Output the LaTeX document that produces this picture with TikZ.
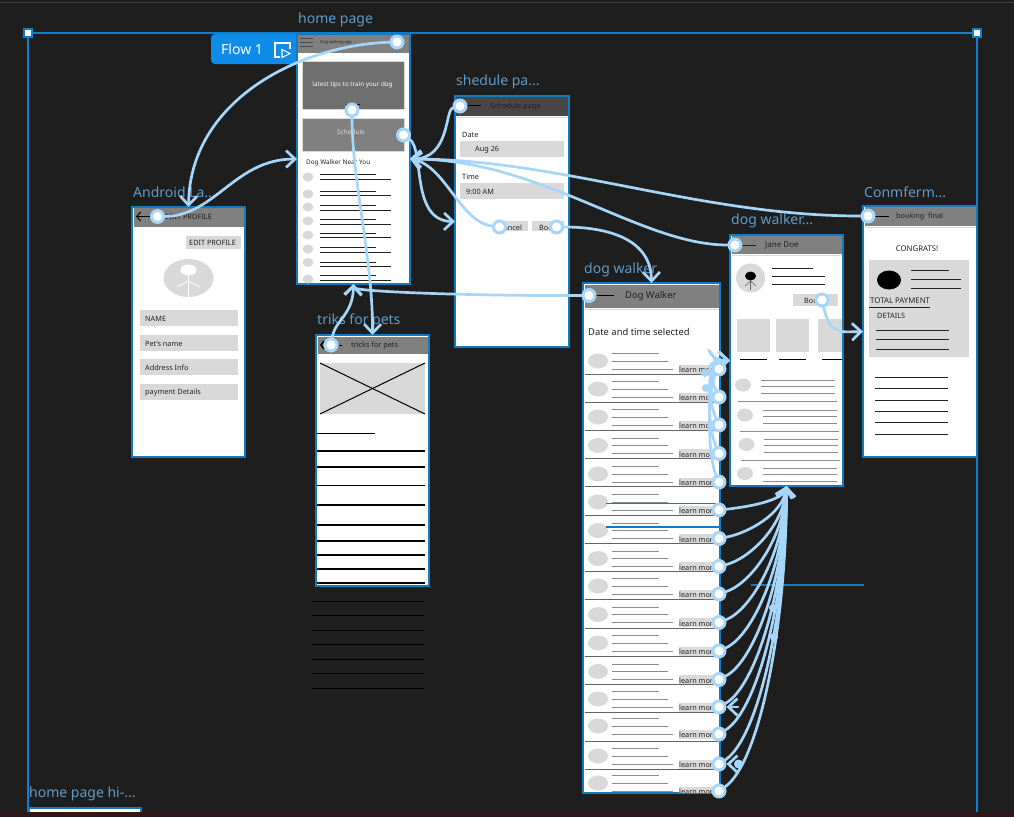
\documentclass[tikz,border=0pt]{standalone}
\usepackage{fontspec}
\setmainfont{Noto Sans}
\usetikzlibrary{arrows.meta}
\definecolor{bgdark}{HTML}{1E1E1E}
\definecolor{framebl}{HTML}{1479BE}
\definecolor{outerbl}{HTML}{0C7FD0}
\definecolor{flowbl}{HTML}{0D8CE9}
\definecolor{titlebl}{HTML}{5F9CCB}
\definecolor{linkbl}{HTML}{A6D6FA}
\definecolor{headgray}{HTML}{808080}
\definecolor{boxgray}{HTML}{D9D9D9}
\definecolor{txtdark}{HTML}{222222}
\pgfdeclarelayer{back}
\pgfdeclarelayer{links}
\pgfsetlayers{back,links,main}
\tikzset{
  screen/.style={draw=framebl,line width=1.9pt,fill=white,inner sep=0,outer sep=0},
  title/.style={text=titlebl,font=\fontsize{14}{16}\selectfont,inner sep=0,anchor=west,yshift=-1.5pt},
  small/.style={text=txtdark,font=\fontsize{7.3}{8}\selectfont,inner sep=0,anchor=west,yshift=-.8pt},
  mid/.style={text=txtdark,font=\fontsize{9.4}{10}\selectfont,inner sep=0,anchor=west,yshift=-1pt},
  handle/.style={circle,draw=linkbl,fill=white,line width=3pt,minimum size=12pt,inner sep=0},
  corner/.style={rectangle,draw=outerbl,fill=white,line width=1.2pt,minimum size=8pt,inner sep=0},
  link/.style={draw=linkbl,line width=2.7pt,line cap=round,-{Straight Barb[length=9pt,width=17pt]}},
  wire/.style={draw=txtdark,line width=.9pt},
  lightwire/.style={draw=gray!90,line width=.6pt}
}
\begin{document}
\begin{tikzpicture}[x=1pt,y=-1pt]
\useasboundingbox (0,0) rectangle (1014,817);

\begin{pgfonlayer}{back}
\fill [bgdark] (0,0) rectangle (1014,817);
\draw [black!75!white,line width=1pt] (0,2.5) -- (1014,2.5);
\draw [outerbl,line width=1.2pt] (28,812) -- (28,33) -- (977,33) -- (977,812);
\fill [flowbl,rounded corners=4pt] (303,34) -- (211,34) -- (211,64) -- (303,64) -- cycle;
\node [text=white,font=\fontsize{14}{16}\selectfont,inner sep=0,anchor=west,yshift=-.5pt] (flowname) at (221,49) {Flow 1};
\draw [white,line width=1.1pt] (290,49) -- (290,43) -- (275,43) -- (275,57) -- (280,57);
\draw [white,line width=1.1pt] (282,49.5) -- (290,53.5) -- (282,57.5) -- cycle;

\node [title] (hometitle) at (298,18) {home page};
\node [title] (profiletitle) at (133,191) {Android La...};
\node [title] (trickstitle) at (317,319) {triks for pets};
\node [title] (scheduletitle) at (456,80) {shedule pa...};
\node [title] (walkertitle) at (584,268) {dog walker};
\node [title] (janetitle) at (731,219) {dog walker...};
\node [title] (confirmtitle) at (864,191) {Conmferm...};
\node [title] (hidpititle) at (29,792) {home page hi-...};

\node [screen,minimum width=113pt,minimum height=250pt] (home) at (353.5,159) {};
\node [screen,minimum width=113pt,minimum height=250pt] (profile) at (188.5,332) {};
\node [screen,minimum width=113pt,minimum height=251pt] (tricks) at (372.5,460.5) {};
\node [screen,minimum width=114pt,minimum height=251pt] (schedule) at (512,221.5) {};
\node [screen,minimum width=137pt,minimum height=510pt] (walker) at (651.5,538) {};
\node [screen,minimum width=113pt,minimum height=251pt] (jane) at (786.5,360.5) {};
\node [screen,minimum width=114pt,minimum height=251pt] (confirm) at (920,331.5) {};
\fill [framebl] (28,807) rectangle (142,812);
\fill [white] (30,809) rectangle (140,812);
\fill [black!60!red!25!bgdark] (0,812) rectangle (1014,817);

\fill [headgray] (298,35) rectangle (409,53);
\foreach \y in {38,42,46}
\draw [black!70,line width=.6pt] (300,\y) -- (313,\y);
\node [text=txtdark,font=\fontsize{4}{5}\selectfont,inner sep=0,anchor=west] (appname) at (320,42) {Dog walking app};
\fill [black!57,draw=boxgray] (302,61) rectangle (404,109);
\node [text=white,font=\fontsize{6.3}{8}\selectfont,inner sep=0] (tips) at (352.5,85) {latest tips to train your dog};
\draw [black,line width=1pt] (346,104) -- (360,104);
\fill [headgray,draw=boxgray] (302,118) rectangle (404,151);
\node [text=boxgray,font=\fontsize{6.5}{8}\selectfont,inner sep=0] (schedbtn) at (351,132) {Schedule};
\node [small,font=\fontsize{6.4}{8}\selectfont] (nearyou) at (306,162) {Dog Walker Near You};
\foreach \y/\a/\b in {177/174/179,194/191/195.5,207/205.5/210,221/219/224,235/233/237.5,249/247/252,262.5/262/266,279/275.5/280} {
\fill [boxgray] (308,\y) ellipse (5.5 and 4.5);
\draw [wire] (320,\a) -- (376,\a);
\draw [wire] (320,\b) -- (391,\b);
}

\fill [headgray] (133.5,208) rectangle (244,227);
\draw [black,line width=1pt,{Straight Barb[length=4pt,width=9pt]}-] (136,216.5) -- (157,216.5);
\node [small] (profilehead) at (165,216.5) {EDIT PROFILE};
\fill [boxgray] (186,236) rectangle (241,249);
\node [small] (editbtn) at (189,242.5) {EDIT PROFILE};
\fill [boxgray] (188.5,278) ellipse (25 and 19);
\fill [white] (188.5,270) ellipse (8 and 5.5);
\draw [white,line width=.8pt] (188.5,275) -- (188.5,297);
\draw [white,line width=.8pt] (177,287) -- (188.5,281) -- (200,287);
\foreach \y/\t [count=\n] in {318/NAME,343/Pet's name,367/Address Info,391.5/payment Details} {
\fill [boxgray] (140,\y-8) rectangle (238,\y+8);
\node [small] (field\n) at (145,\y) {\t};
}

\fill [headgray] (317.5,337) rectangle (428,354);
\draw [black,line width=1.6pt] (324,341) -- (321,345) -- (324,349);
\draw [black,line width=1pt] (339,345) -- (342,345);
\node [small] (trickshead) at (351,345) {tricks for pets};
\fill [boxgray] (320,363) rectangle (425,414);
\draw [black,line width=1pt] (320,363) -- (425,414);
\draw [black,line width=1pt] (320,414) -- (425,363);
\draw [black,line width=1pt] (317,433.5) -- (375,433.5);
\foreach \y in {451,467,485.5,505,525,541,555,569,583}
\draw [black,line width=1.1pt] (317,\y) -- (425,\y);
\foreach \y in {601,615,630,644,659,673,688}
\draw [black,line width=1pt] (312,\y) -- (424,\y);

\fill [black!72] (456,97) rectangle (568,116);
\draw [boxgray,line width=1pt] (456,117) -- (568,117);
\draw [black,line width=.9pt] (465,105.5) -- (481,105.5);
\node [small] (schedulehead) at (490,106) {Schedule page};
\node [small] (datename) at (462,134) {Date};
\fill [boxgray] (460,141) rectangle (564,157);
\node [small] (dateval) at (475,149) {Aug 26};
\node [small] (timename) at (462,176) {Time};
\fill [boxgray] (460,183) rectangle (564,199);
\node [small] (timeval) at (466,191) {9:00 AM};
\fill [boxgray] (497,221) rectangle (528,231);
\node [small] (cancelbtn) at (499,226.5) {Cancel};
\fill [boxgray] (532,221) rectangle (564,231);
\node [small] (bookbtn) at (539,226.5) {Book};

\fill [headgray] (584.5,284.5) rectangle (718.5,308);
\draw [boxgray,line width=1pt] (584.5,309) -- (718.5,309);
\draw [black,line width=.9pt] (594,295.5) -- (614,295.5);
\node [mid] (walkerhead) at (625,295.5) {Dog Walker};
\node [mid] (selected) at (588,331) {Date and time selected};
\begin{scope}
\clip (584,284) rectangle (719,792);
\foreach \i/\y in {1/369,2/397,3/425,4/453.5,5/482,6/510,7/538.5,8/566.5,9/594,10/622.5,11/651,12/679.5,13/707,14/734,15/764,16/791} {
\fill [boxgray] (598,\y-8) ellipse (10 and 7.5);
\draw [lightwire] (612,\y-15.5) -- (659,\y-15.5);
\draw [lightwire] (612,\y-8) -- (668,\y-8);
\draw [lightwire] (612,\y) -- (673,\y);
\fill [boxgray] (679,\y-4.5) rectangle (718,\y+4.5);
\node [small] (more\i) at (679,\y) {learn more};
}
\end{scope}
\foreach \y in {374,402,430,458,486,515,543,571,599,628,656,684,712,741,769}
\draw [txtdark!70,line width=.9pt] (584.5,\y) -- (718.5,\y);
\draw [framebl,line width=1.2pt] (606,503.5) -- (719,503.5);
\draw [framebl,line width=1.2pt] (606,527) -- (719,527);
\draw [framebl,line width=1.2pt] (751,585) -- (864,585);

\fill [headgray] (731.5,236) rectangle (842,254);
\draw [boxgray,line width=1pt] (731.5,255) -- (842,255);
\draw [txtdark,line width=.9pt] (740,245) -- (756,245);
\node [small,font=\fontsize{8}{9}\selectfont] (janehead) at (765,245) {Jane Doe};
\fill [boxgray] (750.5,278) circle (14.5);
\fill [black] (750.5,276) ellipse (5.5 and 4.5);
\draw [black!60,line width=.6pt] (750.5,280) -- (750.5,290);
\draw [black!60,line width=.6pt] (745,286) -- (750.5,281) -- (756,286);
\draw [wire] (772,268) -- (813,268);
\draw [wire] (772,276.5) -- (825,276.5);
\draw [wire] (772,284.5) -- (825,284.5);
\fill [boxgray] (793,294) rectangle (838,306);
\node [small] (janebook) at (804,300) {Book};
\foreach \x/\e/\p/\q in {737/770/740/767,776/809/779/806,818/842/822/842} {
\fill [boxgray] (\x,319) rectangle (\e,352);
\draw [black,line width=.9pt] (\p,359) -- (\q,359);
}
\foreach \cx/\cy/\a in {743/385/761,745/415/763,746.5/444.5/764,745/473.5/763} {
\fill [boxgray] (\cx,\cy) ellipse (8 and 6.5);
\draw [lightwire] (\a,\cy-5) -- (\a+74,\cy-5);
\draw [lightwire] (\a,\cy+1) -- (\a+74,\cy+1);
\draw [lightwire] (\a,\cy+8) -- (\a+74,\cy+8);
}
\draw [lightwire] (738,401) -- (837,401);
\draw [lightwire] (740,431) -- (839,431);
\draw [lightwire] (741,460) -- (840,460);

\fill [headgray] (864.5,207) rectangle (976,226);
\draw [boxgray,line width=1pt] (864.5,227) -- (976,227);
\draw [black,line width=.9pt] (875,216) -- (889,216);
\node [small] (confirmhead) at (896,216) {booking\ \ final};
\node [small,font=\fontsize{7.8}{9}\selectfont,anchor=center] (congrats) at (917,248) {CONGRATS!};
\fill [boxgray] (869,260) rectangle (969,357);
\fill [black] (889,280) ellipse (12 and 9.5);
\draw [wire] (911,270) -- (949,270);
\draw [wire] (911,279) -- (961,279);
\draw [wire] (911,288) -- (961,288);
\node [small,font=\fontsize{7.8}{9}\selectfont] (totalpay) at (870,299.5) {TOTAL PAYMENT};
\draw [wire] (869,307) -- (930,307);
\node [small] (details) at (877,315) {DETAILS};
\foreach \y in {330.5,339.5,349.5}
\draw [wire] (876,\y) -- (949,\y);
\foreach \y in {377,388,400,411,422.5,434}
\draw [wire] (875,\y) -- (948,\y);

\node [corner] (cornerleft) at (28,33) {};
\node [corner] (cornerright) at (977,33) {};
\end{pgfonlayer}

\node [handle] (hometop) at (397,42) {};
\node [handle] (hometips) at (352,110) {};
\node [handle] (homesched) at (403.5,135) {};
\node [handle] (profileback) at (157.5,216.5) {};
\node [handle] (tricksback) at (331,345) {};
\node [handle] (scheduleback) at (460,106) {};
\node [handle] (schedulecancel) at (499.5,227) {};
\node [handle] (schedulebook) at (556.5,227) {};
\node [handle] (walkerback) at (589,295.5) {};
\node [handle] (janeback) at (735,245) {};
\node [handle] (janebtn) at (822,300) {};
\node [handle] (confirmback) at (868,216) {};
\foreach \i/\y in {1/369,2/397,3/425,4/453.5,5/482,6/510,7/538.5,8/566.5,9/594,10/622.5,11/651,12/679.5,13/707,14/734,15/764,16/791}
\node [handle] (w\i) at (719,\y) {};

\begin{pgfonlayer}{links}
\draw [link] (hometop) .. controls (300,45) and (190,100) .. (profile.north);
\draw [link] (profileback) .. controls (215,216) and (235,159) .. (home.west);
\draw [link] (hometips) .. controls (352,180) and (373,260) .. (tricks.north);
\draw [link] (tricksback) .. controls (335,320) and (353,315) .. (home.south);
\draw [link] (walkerback) .. controls (480,296) and (353,292) .. (home.south);
\draw [link] (homesched) .. controls (425,150) and (410,221) .. (schedule.west);
\draw [link] (scheduleback) .. controls (445,110) and (450,159) .. (home.east);
\draw [link] (schedulecancel) .. controls (460,222) and (445,165) .. (home.east);
\draw [link] (schedulebook) .. controls (610,227) and (651,240) .. (walker.north);
\draw [link] (janeback) .. controls (640,245) and (540,159) .. (home.east);
\draw [link] (confirmback) .. controls (700,216) and (560,159) .. (home.east);
\draw [link] (janebtn) .. controls (830,335) and (840,332) .. (confirm.west);
\foreach \i in {1,...,5}
\draw [link] (w\i) .. controls +(-13,-30) and +(-24,0) .. (jane.west);
\foreach \i/\y in {6/510,7/538.5,8/566.5,9/594,10/622.5,11/651,12/679.5,13/707,14/734,15/764,16/791} {
\pgfmathsetmacro{\f}{(\y-510)/281}
\pgfmathsetmacro{\off}{15+(\y-510)*.45}
\draw [link] (w\i) .. controls +(28+12*\f,-3-25*\f) and +(-4+4*\f,\off) .. (jane.south);
}
\coordinate (stubtop) at (738,707);
\draw [link] (stubtop) -- (w13);
\coordinate (stubbottom) at (728,764);
\draw [link] (stubbottom) -- (w15);
\fill [linkbl] (705,373) circle (4);
\fill [linkbl] (706,388) circle (4);
\fill [linkbl] (773,608) circle (4);
\fill [linkbl] (774,637) circle (4);
\fill [linkbl] (738.5,764) circle (4.5);
\end{pgfonlayer}
\end{tikzpicture}
\end{document}
